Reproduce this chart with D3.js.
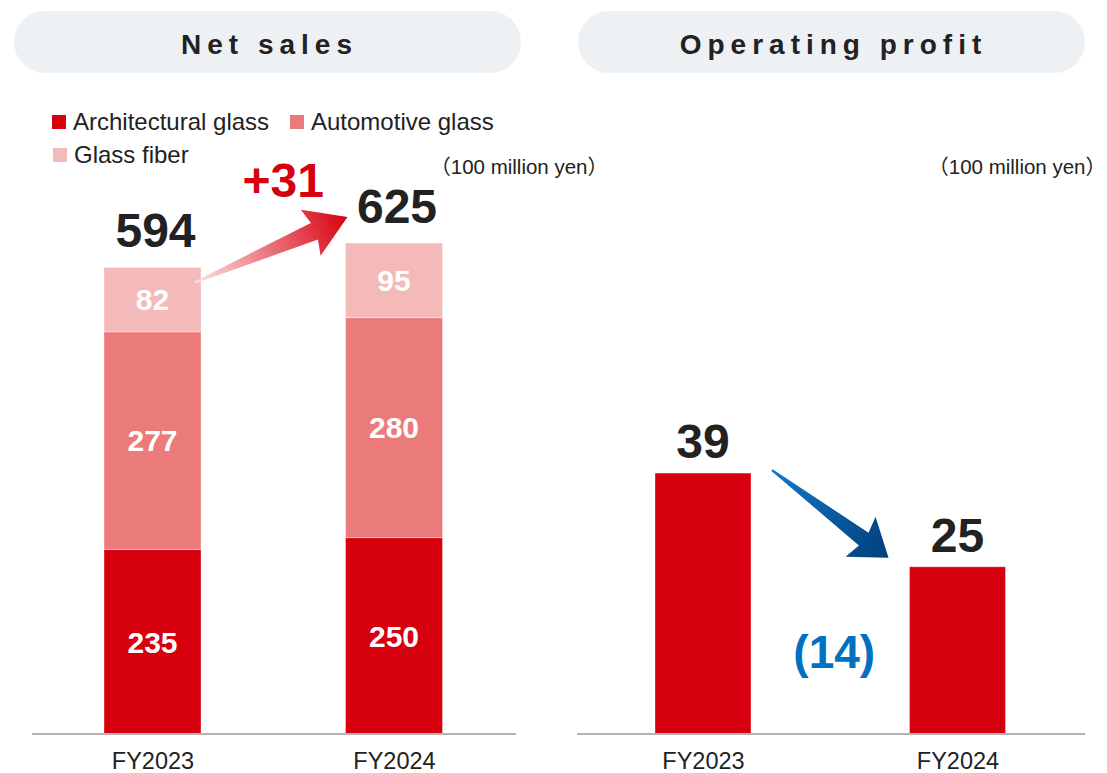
<!DOCTYPE html>
<html lang="en">
  <head>
    <meta charset="UTF-8" />
    <title>Net sales / Operating profit</title>
    <script src="https://d3js.org/d3.v7.min.js"></script>
    <style>
      body {
        margin: 0;
        background: #fff;
        font-family: "Liberation Sans", Arial, sans-serif;
      }
      svg {
        display: block;
      }
      .pill-title {
        font-size: 28px;
        font-weight: bold;
        fill: #222;
        letter-spacing: 6px;
        text-anchor: middle;
      }
      .legend-text {
        font-size: 24px;
        fill: #222;
      }
      .unit {
        font-size: 20.5px;
        fill: #222;
        text-anchor: end;
        font-family: "Liberation Sans", "Noto Sans CJK JP", sans-serif;
      }
      .total {
        font-size: 48px;
        font-weight: bold;
        fill: #222;
        text-anchor: middle;
      }
      .seg-label {
        font-size: 30px;
        font-weight: bold;
        fill: #fff;
        text-anchor: middle;
      }
      .tick text {
        font-size: 23.5px;
        fill: #222;
        font-family: "Liberation Sans", Arial, sans-serif;
      }
    </style>
  </head>
  <body>
    <svg id="chart" width="1107" height="773"></svg>

    <script>
      // données
      const years = ["FY2023", "FY2024"];
      const segments = ["Architectural glass", "Automotive glass", "Glass fiber"];
      const architectural = [235, 250];
      const automotive = [277, 280];
      const glassFiber = [82, 95];
      const salesTotals = [594, 625];
      const salesChange = "+31";
      const operatingProfit = [39, 25];
      const profitChange = "(14)";
      const unitLabel = "\uff08100 million yen\uff09";

      const colors = ["#d7000f", "#eb7a7b", "#f4b9b9"];

      const svg = d3.select("#chart");
      const baseY = 734;

      // titres (pilules)
      const panels = [
        { title: "Net sales", x0: 14, x1: 521 },
        { title: "Operating profit", x0: 578, x1: 1085 },
      ];
      panels.forEach((p) => {
        svg
          .append("rect")
          .attr("x", p.x0)
          .attr("y", 11)
          .attr("width", p.x1 - p.x0)
          .attr("height", 62)
          .attr("rx", 31)
          .attr("fill", "#eef1f4");
        svg
          .append("text")
          .attr("class", "pill-title")
          .attr("x", (p.x0 + p.x1) / 2 + 2)
          .attr("y", 54)
          .text(p.title);
      });

      // légende
      const legendPos = [
        [52, 115],
        [290, 115],
        [53, 148],
      ];
      segments.forEach((s, i) => {
        const [lx, ly] = legendPos[i];
        svg
          .append("rect")
          .attr("x", lx)
          .attr("y", ly)
          .attr("width", 14)
          .attr("height", 14)
          .attr("fill", colors[i]);
        svg
          .append("text")
          .attr("class", "legend-text")
          .attr("x", lx + 21)
          .attr("y", ly + 15)
          .text(s);
      });

      // unités
      svg.append("text").attr("class", "unit").attr("x", 608).attr("y", 174).text(unitLabel);
      svg.append("text").attr("class", "unit").attr("x", 1106).attr("y", 174).text(unitLabel);

      const defs = svg.append("defs");

      // ---------- Net sales ----------
      const xL = d3.scalePoint().domain(years).range([152.5, 394]);
      const barW = 97;
      const yL = d3.scaleLinear().domain([0, 625]).range([baseY, baseY - 625 * 0.7855]);

      const salesData = years.map((y, i) => ({
        year: y,
        values: [architectural[i], automotive[i], glassFiber[i]],
      }));
      const stack = d3
        .stack()
        .keys([0, 1, 2])
        .value((d, k) => d.values[k]);
      const series = stack(salesData);

      const gL = svg.append("g");
      series.forEach((s, k) => {
        gL.selectAll(null)
          .data(s)
          .enter()
          .append("rect")
          .attr("x", (d) => xL(d.data.year) - barW / 2)
          .attr("y", (d) => yL(d[1]))
          .attr("width", barW)
          .attr("height", (d) => yL(d[0]) - yL(d[1]))
          .attr("fill", colors[k])
          .attr("stroke", "rgba(255,255,255,0.35)")
          .attr("stroke-width", 1);

        gL.selectAll(null)
          .data(s)
          .enter()
          .append("text")
          .attr("class", "seg-label")
          .attr("x", (d) => xL(d.data.year))
          .attr("y", (d) => (yL(d[0]) + yL(d[1])) / 2)
          .attr("dy", "0.36em")
          .text((d) => d.data.values[k]);
      });

      gL.selectAll(null)
        .data(years)
        .enter()
        .append("text")
        .attr("class", "total")
        .attr("x", (d) => xL(d) + 3)
        .attr("y", (d, i) => yL(salesTotals[i]) - 20)
        .text((d, i) => salesTotals[i]);

      // ---------- Operating profit ----------
      const xR = d3.scalePoint().domain(years).range([703, 957.5]);
      const yR = d3.scaleLinear().domain([0, 39]).range([baseY, baseY - 39 * 6.69]);

      const gR = svg.append("g");
      gR.selectAll(null)
        .data(years)
        .enter()
        .append("rect")
        .attr("x", (d) => xR(d) - 48)
        .attr("y", (d, i) => yR(operatingProfit[i]))
        .attr("width", 96)
        .attr("height", (d, i) => baseY - yR(operatingProfit[i]))
        .attr("fill", colors[0])
        .attr("stroke", "rgba(255,255,255,0.35)")
        .attr("stroke-width", 1);

      gR.selectAll(null)
        .data(years)
        .enter()
        .append("text")
        .attr("class", "total")
        .attr("x", (d) => xR(d))
        .attr("y", (d, i) => yR(operatingProfit[i]) - 15)
        .text((d, i) => operatingProfit[i]);

      // axes
      function drawAxis(x, x0, x1) {
        svg
          .append("line")
          .attr("x1", x0)
          .attr("x2", x1)
          .attr("y1", baseY)
          .attr("y2", baseY)
          .attr("stroke", "#b3b3b3")
          .attr("stroke-width", 2);
        const ax = svg
          .append("g")
          .attr("transform", `translate(0,${baseY})`)
          .call(d3.axisBottom(x).tickSize(0).tickPadding(18));
        ax.select(".domain").remove();
        ax.selectAll(".tick text").attr("dy", "0.71em");
      }
      drawAxis(xL, 32, 516);
      drawAxis(xR, 577, 1085);

      // flèches
      function wedgeArrow(id, from, to, c0, c1, o) {
        const dx = to[0] - from[0],
          dy = to[1] - from[1];
        const L = Math.hypot(dx, dy);
        const ux = dx / L,
          uy = dy / L,
          nx = -uy,
          ny = ux;
        const pt = (a, b) => [from[0] + ux * a + nx * b, from[1] + uy * a + ny * b];
        const hb = L - o.head;
        const pts = [
          pt(0, -1),
          pt(hb, -o.shaft),
          pt(hb - 4, -o.barb),
          pt(L, 0),
          pt(hb - 4, o.barb),
          pt(hb, o.shaft),
          pt(0, 1),
        ];
        const grad = defs
          .append("linearGradient")
          .attr("id", id)
          .attr("gradientUnits", "userSpaceOnUse")
          .attr("x1", from[0])
          .attr("y1", from[1])
          .attr("x2", to[0])
          .attr("y2", to[1]);
        grad.append("stop").attr("offset", "0%").attr("stop-color", c0);
        grad.append("stop").attr("offset", "100%").attr("stop-color", c1);
        svg
          .append("path")
          .attr("d", d3.line()(pts) + "Z")
          .attr("fill", `url(#${id})`);
      }

      wedgeArrow(
        "gradUp",
        [xL(years[0]) + barW / 2 - 6, yL(salesTotals[0]) + 15],
        [xL(years[1]) - barW / 2 + 2, yL(salesTotals[1]) - 26],
        "#fde3e5",
        "#d7000f",
        { head: 36, shaft: 9, barb: 25 }
      );
      wedgeArrow(
        "gradDown",
        [xR(years[0]) + 48 + 21, yR(operatingProfit[0]) - 3],
        [xR(years[1]) - 48 - 21, yR(operatingProfit[1]) - 9],
        "#1577c8",
        "#003f7c",
        { head: 31, shaft: 8, barb: 25 }
      );

      // variations
      svg
        .append("text")
        .attr("class", "total")
        .attr("x", (xL(years[0]) + xL(years[1])) / 2 + 10)
        .attr("y", yL(salesTotals[1]) - 46)
        .style("fill", "#d7000f")
        .text(salesChange);

      svg
        .append("text")
        .attr("class", "total")
        .attr("x", (xR(years[0]) + xR(years[1])) / 2 + 4)
        .attr("y", baseY - 66)
        .style("fill", "#0070c0")
        .style("font-size", "46px")
        .text(profitChange);
    </script>
  </body>
</html>
